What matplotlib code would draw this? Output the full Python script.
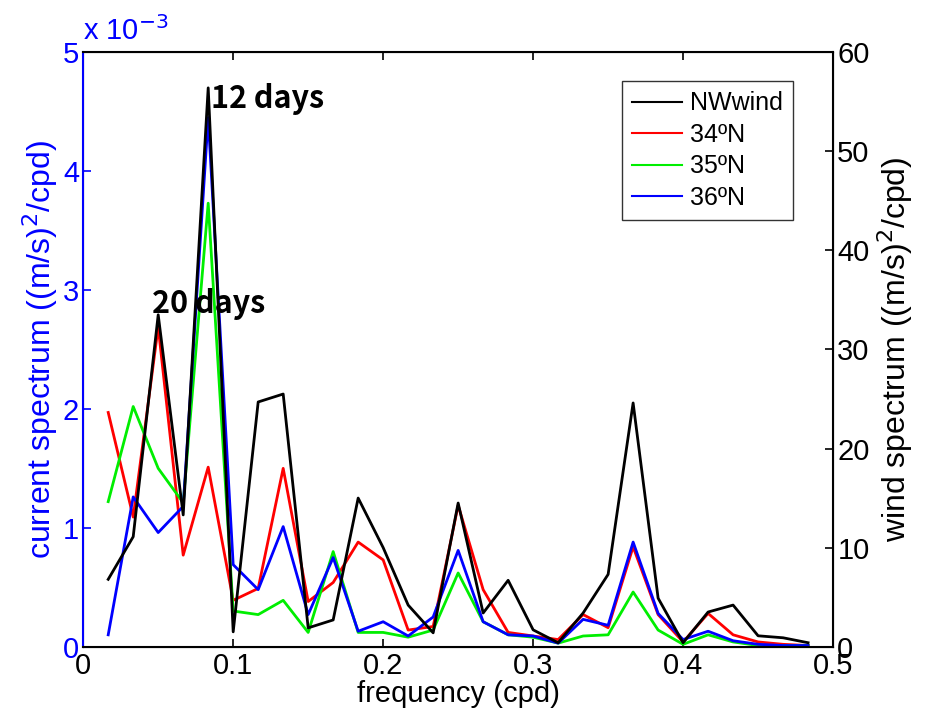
import numpy as np
import matplotlib.pyplot as plt

plt.rcParams['font.family'] = ['Liberation Sans', 'DejaVu Sans']

# frequency bins (cpd), 60-day record
freq = np.arange(1, 30) / 60.0

# wind spectrum ((m/s)^2/cpd), right axis
nw_wind = [6.8, 11.1, 33.5, 13.3, 56.4, 1.5, 24.7, 25.5, 1.9, 2.7, 15.0, 10.0, 4.2, 1.4,
           14.5, 3.4, 6.7, 1.7, 0.4, 3.4, 7.3, 24.6, 4.9, 0.4, 3.5, 4.2, 1.1, 0.9, 0.4]

# current spectra (x 1e-3), left axis
n34 = [1.97, 1.09, 2.69, 0.77, 1.51, 0.39, 0.49, 1.50, 0.38, 0.54, 0.88, 0.73, 0.14, 0.17,
       1.19, 0.48, 0.12, 0.09, 0.06, 0.27, 0.16, 0.84, 0.27, 0.04, 0.28, 0.10, 0.04, 0.02, 0.01]
n35 = [1.22, 2.02, 1.50, 1.21, 3.73, 0.30, 0.27, 0.39, 0.12, 0.80, 0.12, 0.12, 0.08, 0.14,
       0.62, 0.21, 0.10, 0.08, 0.03, 0.09, 0.10, 0.46, 0.14, 0.02, 0.10, 0.04, 0.01, 0.01, 0.01]
n36 = [0.10, 1.26, 0.96, 1.18, 4.45, 0.69, 0.48, 1.01, 0.27, 0.75, 0.13, 0.21, 0.09, 0.25,
       0.81, 0.21, 0.10, 0.09, 0.03, 0.23, 0.18, 0.88, 0.28, 0.06, 0.13, 0.05, 0.02, 0.01, 0.01]

fig = plt.figure(figsize=(9.35, 7.25), dpi=100)
ax = fig.add_axes([0.089, 0.108, 0.802, 0.820])
ax2 = ax.twinx()

lw = 2.0
ax.plot(freq, np.array(n34) * 1e-3, color='red', lw=lw, label='34ºN')
ax.plot(freq, np.array(n35) * 1e-3, color='#00ee00', lw=lw, label='35ºN')
ax.plot(freq, np.array(n36) * 1e-3, color='blue', lw=lw, label='36ºN')
ax2.plot(freq, nw_wind, color='black', lw=lw, label='NWwind')

ax.set_xlim(0, 0.5)
ax.set_ylim(0, 5e-3)
ax2.set_ylim(0, 60)
ax.set_xticks([0, 0.1, 0.2, 0.3, 0.4, 0.5])
ax.set_xticklabels(['0', '0.1', '0.2', '0.3', '0.4', '0.5'])
ax.set_yticks(np.arange(0, 6) * 1e-3)
ax.set_yticklabels([str(i) for i in range(6)])
ax2.set_yticks(np.arange(0, 70, 10))

ax.tick_params(axis='x', direction='in', top=True, labelsize=21, length=6, width=1.2, pad=4)
ax.tick_params(axis='y', direction='in', colors='blue', labelsize=21, length=6, width=1.2, pad=3)
ax2.tick_params(axis='y', direction='in', labelsize=21, length=6, width=1.2, pad=3)
for s in ax2.spines.values():
    s.set_linewidth(1.5)
ax2.spines['left'].set_color('blue')

ax.set_xlabel('frequency (cpd)', fontsize=21, labelpad=0)
ax.set_ylabel('current spectrum ((m/s)$^2$/cpd)', fontsize=23, color='blue', labelpad=2)
ax2.set_ylabel('wind spectrum ((m/s)$^2$/cpd)', fontsize=23, labelpad=4)
fig.text(0.089, 0.936, 'x 10$^{-3}$', color='blue', fontsize=21, ha='left', va='bottom')

ann_font = ['Noto Sans CJK KR', 'DejaVu Sans']
ax2.text(0.0853, 54.4, '12 days', fontsize=22, fontweight='bold', family=ann_font, va='baseline')
ax2.text(0.046, 33.7, '20 days', fontsize=22, fontweight='bold', family=ann_font, va='baseline')

h1, l1 = ax.get_legend_handles_labels()
h2, l2 = ax2.get_legend_handles_labels()
leg = ax2.legend(h2 + h1, l2 + l1, loc='upper right', bbox_to_anchor=(0.963, 0.972),
                 fontsize=18, frameon=True, fancybox=False, edgecolor='black',
                 handlelength=2.0, handletextpad=0.3, labelspacing=0.3, borderpad=0.4)
leg.get_frame().set_linewidth(1.0)
for line in leg.get_lines():
    line.set_linewidth(1.5)

fig.savefig('out.png', dpi=100)
